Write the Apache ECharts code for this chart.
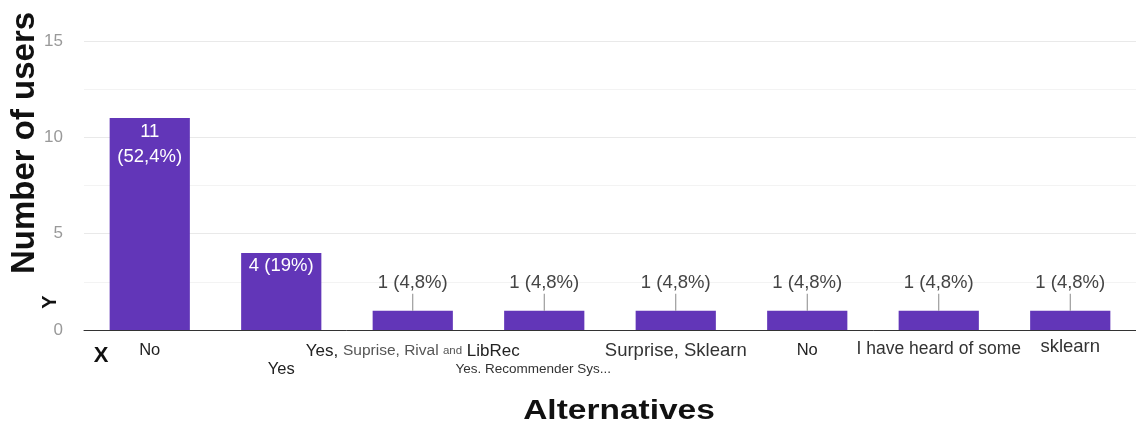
<!DOCTYPE html>
<html>
<head>
<meta charset="utf-8">
<script src="https://cdn.jsdelivr.net/npm/echarts@6/dist/echarts.min.js"></script>
<style>
  html, body { margin: 0; padding: 0; background: #fff; }
  #chart { width: 1136px; height: 429px; }
</style>
</head>
<body>
<div id="chart"></div>
<script>
// Survey answers and how many users gave each one
const categories = [
  'No',
  'Yes',
  'Yes, Suprise, Rival and LibRec',
  'Yes. Recommender Sys...',
  'Surprise, Sklearn',
  'No',
  'I have heard of some',
  'sklearn'
];
const counts = [11, 4, 1, 1, 1, 1, 1, 1];
const yTicks = [0, 5, 10, 15];

const total = counts.reduce((a, b) => a + b, 0);
const BAR = '#6236b8';
const FONT = 'Liberation Sans, Arial, sans-serif';

function pct(v) {
  let s = (v / total * 100).toFixed(1);
  if (s.endsWith('.0')) s = s.slice(0, -2);
  return s.replace('.', ',') + '%';
}

// Labels that are pushed to a second row to avoid overlap
const lowered = new Set([1, 3]);

const seriesData = counts.map((v, i) => {
  const item = { value: v };
  if (v >= 10) {
    item.label = {
      show: true, position: 'insideTop', distance: 1, color: '#fff',
      fontSize: 18.5, lineHeight: 25,
      formatter: v + '\n(' + pct(v) + ')'
    };
  } else if (v >= 3) {
    item.label = {
      show: true, position: 'insideTop', distance: 3, color: '#fff',
      fontSize: 18.5, lineHeight: 20, formatter: v + ' (' + pct(v) + ')'
    };
  } else {
    item.label = {
      show: true, position: 'top', distance: 0,
      formatter: '{t|' + v + ' (' + pct(v) + ')}\n{stem|}',
      rich: {
        t: { fontSize: 18.5, color: '#444', lineHeight: 22 },
        stem: { width: 1, height: 17, backgroundColor: '#888' }
      }
    };
  }
  return item;
});

const chart = echarts.init(document.getElementById('chart'), null, { renderer: 'canvas' });

chart.setOption({
  backgroundColor: '#ffffff',
  animation: false,
  textStyle: { fontFamily: FONT },
  grid: { left: 84, right: -9, top: 41, bottom: 99, containLabel: false },
  xAxis: {
    type: 'category',
    data: categories,
    axisLine: { lineStyle: { color: '#333', width: 1 } },
    axisTick: { show: false },
    axisLabel: {
      interval: 0,
      margin: 10,
      color: '#222',
      fontSize: 17,
      formatter: function (val, i) {
        let txt;
        if (i === 2) {
          txt = '{a|Yes,} {b|Suprise, Rival }{c|and}{a| LibRec}';
        } else if (i === 3) {
          txt = '{s|' + val + '}';
        } else if (i === 4) {
          txt = '{l|' + val + '}';
        } else if (i === 6) {
          txt = '{h|' + val + '}';
        } else if (i === 7) {
          txt = '{m|' + val + '}';
        } else {
          txt = '{n|' + val + '}';
        }
        return lowered.has(i) ? '{gap|}\n' + txt : txt;
      },
      rich: {
        gap: { height: 19, lineHeight: 19 },
        n: { fontSize: 16.5, color: '#222', lineHeight: 20 },
        a: { fontSize: 17, color: '#222', lineHeight: 22 },
        b: { fontSize: 15.5, color: '#555', lineHeight: 22 },
        c: { fontSize: 11.5, color: '#555', lineHeight: 22 },
        s: { fontSize: 13.5, color: '#333', lineHeight: 20, padding: [0, 22, 0, 0] },
        l: { fontSize: 18.5, color: '#333', lineHeight: 22 },
        h: { fontSize: 17.5, color: '#333', lineHeight: 18 },
        m: { fontSize: 18.5, color: '#333', lineHeight: 14 }
      }
    }
  },
  yAxis: {
    type: 'value',
    min: yTicks[0],
    max: yTicks[yTicks.length - 1],
    interval: yTicks[1] - yTicks[0],
    axisLine: { show: false },
    axisTick: { show: false },
    axisLabel: { color: '#999', fontSize: 17, margin: 21 },
    splitLine: { lineStyle: { color: '#e9e9e9' } },
    minorTick: { show: false, splitNumber: 2 },
    minorSplitLine: { show: true, lineStyle: { color: '#f3f3f3' } }
  },
  series: [{
    type: 'bar',
    data: seriesData,
    barWidth: '61%',
    itemStyle: { color: BAR }
  }],
  graphic: [
    {
      type: 'text', x: 25, y: 143, rotation: Math.PI / 2,
      style: {
        text: 'Number of users', font: 'bold 33px ' + FONT,
        fill: '#111', textAlign: 'center', textVerticalAlign: 'middle'
      }
    },
    {
      type: 'text', x: 50, y: 302, rotation: Math.PI / 2,
      style: {
        text: 'Y', font: 'bold 20px ' + FONT,
        fill: '#111', textAlign: 'center', textVerticalAlign: 'middle'
      }
    },
    {
      type: 'text', x: 101, y: 356,
      style: {
        text: 'X', font: 'bold 22px ' + FONT,
        fill: '#111', textAlign: 'center', textVerticalAlign: 'middle'
      }
    },
    {
      type: 'text', x: 619, y: 412, scaleX: 1.24,
      style: {
        text: 'Alternatives', font: 'bold 27px ' + FONT,
        fill: '#111', textAlign: 'center', textVerticalAlign: 'middle'
      }
    }
  ]
});
</script>
</body>
</html>
